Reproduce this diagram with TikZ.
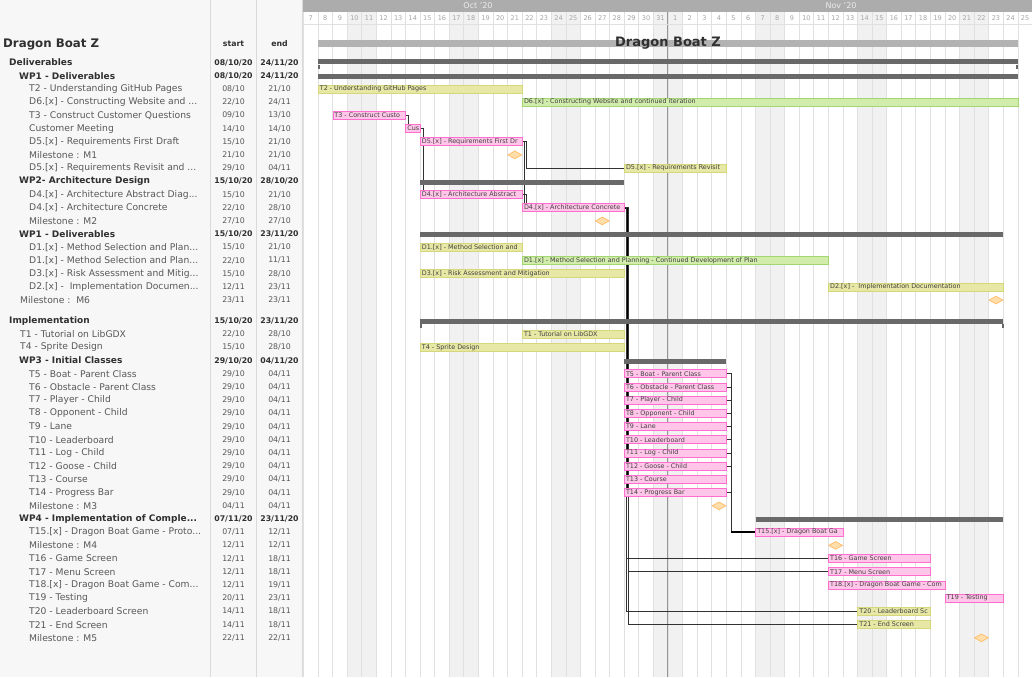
\documentclass[tikz,border=0pt]{standalone}
\usepackage{fontspec}
\setmainfont{DejaVu Sans}
\usepackage{xcolor}
\usepackage{tikz}
\usetikzlibrary{shapes.geometric, calc, positioning}

\definecolor{panelbg}{RGB}{247,247,247}
\definecolor{panelrule}{RGB}{218,218,218}
\definecolor{gridcol}{RGB}{224,224,224}
\definecolor{weekend}{RGB}{241,241,241}
\definecolor{monthcol}{RGB}{172,172,172}
\definecolor{monthrule}{RGB}{150,150,150}
\definecolor{daytext}{RGB}{165,165,165}
\definecolor{nametext}{RGB}{88,88,88}
\definecolor{grouptext}{RGB}{48,48,48}
\definecolor{yelfill}{RGB}{232,232,166}
\definecolor{yeldraw}{RGB}{214,214,122}
\definecolor{grnfill}{RGB}{210,236,172}
\definecolor{grndraw}{RGB}{162,214,112}
\definecolor{pnkfill}{RGB}{255,198,233}
\definecolor{pnkdraw}{RGB}{255,112,206}
\definecolor{sumcol}{RGB}{105,105,105}
\definecolor{projcol}{RGB}{178,178,178}
\definecolor{msfill}{RGB}{255,222,170}
\definecolor{msdraw}{RGB}{255,188,105}
\definecolor{depcol}{RGB}{50,50,50}

\pgfdeclarelayer{grid}
\pgfdeclarelayer{deps}
\pgfsetlayers{grid,deps,main}

\tikzset{
  taskbox/.style={
    draw, rectangle, inner sep=0pt, minimum height=8pt, line width=0.8pt,
    font=\fontsize{6.4}{7}\selectfont, text=black!75, anchor=west
  },
  taskyel/.style={taskbox, fill=yelfill, draw=yeldraw},
  taskgrn/.style={taskbox, fill=grnfill, draw=grndraw},
  taskpnk/.style={taskbox, fill=pnkfill, draw=pnkdraw},
  sumbox/.style={
    rectangle, fill=sumcol, inner sep=0pt, minimum height=5pt, anchor=west
  },
  sumtick/.style={draw=sumcol, line width=2pt},
  projbox/.style={
    rectangle, fill=projcol, inner sep=0pt, minimum height=6.5pt, anchor=west
  },
  milestone/.style={
    diamond, draw=msdraw, fill=msfill, line width=0.7pt, inner sep=0pt,
    minimum width=14pt, minimum height=8pt
  },
  deplink/.style={draw=depcol, line width=1pt},
  depthick/.style={draw=black, line width=2.4pt},
  namecell/.style={
    anchor=west, inner sep=0pt, font=\fontsize{9.2}{10}\selectfont, text=nametext
  },
  groupcell/.style={
    anchor=west, inner sep=0pt, font=\fontsize{9}{10}\selectfont\bfseries,
    text=grouptext
  },
  datecell/.style={inner sep=0pt, font=\fontsize{7.8}{9}\selectfont, text=nametext},
  groupdate/.style={
    inner sep=0pt, font=\fontsize{7.8}{9}\selectfont\bfseries, text=grouptext
  },
  daynum/.style={inner sep=0pt, font=\fontsize{6.5}{7}\selectfont, text=daytext},
  monthlabel/.style={inner sep=0pt, font=\fontsize{8}{9}\selectfont, text=white!92!black},
  gridline/.style={draw=gridcol, line width=0.6pt},
}

% one line of the table on the left
\newcommand{\taskrow}[6]{%
  \node[namecell] (#1-n) at (#2,#3) {#4};
  \node[datecell] (#1-s) at (233.5,#3) {#5};
  \node[datecell] (#1-e) at (279.5,#3) {#6};
}
\newcommand{\grouprow}[6]{%
  \node[groupcell] (#1-n) at (#2,#3) {#4};
  \node[groupdate] (#1-s) at (233.5,#3) {#5};
  \node[groupdate] (#1-e) at (279.5,#3) {#6};
}
% bars: day index counted from 7 Oct (= 0)
\newcommand{\taskbar}[6]{%
  \pgfmathsetmacro{\barx}{303.4+14.58*#3}
  \pgfmathsetmacro{\barw}{14.58*(#4-#3+1)}
  \node[#2, minimum width=\barw pt] (#1) at (\barx,#5)
    {\makebox[\barw pt][l]{\hspace{1.5pt}#6}};
}
\newcommand{\summarybar}[4]{%
  \pgfmathsetmacro{\barx}{303.4+14.58*#2}
  \pgfmathsetmacro{\barw}{14.58*(#3-#2+1)}
  \node[sumbox, minimum width=\barw pt] (#1) at (\barx,#4) {};
}
\newcommand{\milestone}[3]{%
  \node[milestone] (#1) at ({303.4+14.58*(#2+0.5)},#3) {};
}

\begin{document}
\begin{tikzpicture}[x=1pt, y=-1pt]
  \useasboundingbox (0,0) rectangle (1032,677);

  % background, weekends, day grid
  \begin{pgfonlayer}{grid}
    \fill[panelbg] (0,0) rectangle (303.4,677);
    \fill[white] (303.4,12) rectangle (1032,677);
    \foreach \i in {3,4,10,11,17,18,24,25,31,32,38,39,45,46}
      \fill[weekend] ({303.4+14.58*\i},12) rectangle ++(14.58,665);
    \foreach \i in {0,...,49}
      \draw[gridline] ({303.4+14.58*\i},12) -- ++(0,665);
    \draw[monthrule, line width=0.9pt] (667.9,12) -- ++(0,665);
    \draw[gridline] (303.4,24.5) -- (1032,24.5);
    \fill[monthcol] (303.4,0) rectangle (1032,12);
    \draw[panelrule, line width=0.8pt] (210.7,0) -- ++(0,677);
    \draw[panelrule, line width=0.8pt] (256.7,0) -- ++(0,677);
    \draw[panelrule, line width=1pt] (302.9,0) -- ++(0,677);
  \end{pgfonlayer}

  % calendar header
  \node[monthlabel] (moct) at (478,6) {Oct '20};
  \node[monthlabel] (mnov) at (841,6) {Nov '20};
  \foreach \d in {7,...,31}
    \node[daynum] (oct\d) at ({303.4+14.58*(\d-7+0.5)},18.5) {\d};
  \foreach \d in {1,...,25}
    \node[daynum] (nov\d) at ({303.4+14.58*(\d+24.5)},18.5) {\d};

  % table
  \node[anchor=west, inner sep=0pt, font=\fontsize{11.8}{13}\selectfont\bfseries,
    text=grouptext] (title) at (3,44) {Dragon Boat Z};
  \node[groupdate] (hstart) at (233.5,44) {start};
  \node[groupdate] (hend) at (279.5,44) {end};

  \grouprow{gdel}{9}{62.5}{Deliverables}{08/10/20}{24/11/20}
  \grouprow{gwpa}{19}{75.7}{WP1 - Deliverables}{08/10/20}{24/11/20}
  \taskrow{rt2}{29}{88.9}{T2 - Understanding GitHub Pages}{08/10}{21/10}
  \taskrow{rd6}{29}{102.1}{D6.[x] - Constructing Website and ...}{22/10}{24/11}
  \taskrow{rt3}{29}{115.3}{T3 - Construct Customer Questions}{09/10}{13/10}
  \taskrow{rcm}{29}{128.5}{Customer Meeting}{14/10}{14/10}
  \taskrow{rd5a}{29}{141.7}{D5.[x] - Requirements First Draft}{15/10}{21/10}
  \taskrow{rm1}{29}{154.9}{Milestone : M1}{21/10}{21/10}
  \taskrow{rd5b}{29}{168.1}{D5.[x] - Requirements Revisit and ...}{29/10}{04/11}
  \grouprow{gwp2}{19}{181.3}{WP2- Architecture Design}{15/10/20}{28/10/20}
  \taskrow{rd4a}{29}{194.5}{D4.[x] - Architecture Abstract Diag...}{15/10}{21/10}
  \taskrow{rd4c}{29}{207.7}{D4.[x] - Architecture Concrete}{22/10}{28/10}
  \taskrow{rm2}{29}{220.9}{Milestone : M2}{27/10}{27/10}
  \grouprow{gwpb}{19}{234.1}{WP1 - Deliverables}{15/10/20}{23/11/20}
  \taskrow{rd1a}{29}{247.3}{D1.[x] - Method Selection and Plan...}{15/10}{21/10}
  \taskrow{rd1b}{29}{260.5}{D1.[x] - Method Selection and Plan...}{22/10}{11/11}
  \taskrow{rd3}{29}{273.7}{D3.[x] - Risk Assessment and Mitig...}{15/10}{28/10}
  \taskrow{rd2}{29}{286.9}{D2.[x] -\ \ Implementation Documen...}{12/11}{23/11}
  \taskrow{rm6}{20}{300.1}{Milestone :\ \ M6}{23/11}{23/11}
  \grouprow{gimp}{9}{321}{Implementation}{15/10/20}{23/11/20}
  \taskrow{rt1}{20}{334.2}{T1 - Tutorial on LibGDX}{22/10}{28/10}
  \taskrow{rt4}{20}{347.4}{T4 - Sprite Design}{15/10}{28/10}
  \grouprow{gwp3}{19}{360.6}{WP3 - Initial Classes}{29/10/20}{04/11/20}
  \taskrow{rm3}{29}{505.8}{Milestone : M3}{04/11}{04/11}
  \grouprow{gwp4}{19}{519}{WP4 - Implementation of Comple...}{07/11/20}{23/11/20}
  \taskrow{rt15}{29}{532.2}{T15.[x] - Dragon Boat Game - Proto...}{07/11}{12/11}
  \taskrow{rm4}{29}{545.4}{Milestone : M4}{12/11}{12/11}
  \taskrow{rt16}{29}{558.6}{T16 - Game Screen}{12/11}{18/11}
  \taskrow{rt17}{29}{571.8}{T17 - Menu Screen}{12/11}{18/11}
  \taskrow{rt18}{29}{585}{T18.[x] - Dragon Boat Game - Com...}{12/11}{19/11}
  \taskrow{rt19}{29}{598.2}{T19 - Testing}{20/11}{23/11}
  \taskrow{rt20}{29}{611.4}{T20 - Leaderboard Screen}{14/11}{18/11}
  \taskrow{rt21}{29}{624.6}{T21 - End Screen}{14/11}{18/11}
  \taskrow{rm5}{29}{637.8}{Milestone : M5}{22/11}{22/11}

  % project and summary bars
  \node[projbox, minimum width=700pt] (proj) at (318,43.7) {};
  \node[font=\fontsize{13}{14}\selectfont\bfseries, text=grouptext, inner sep=0pt]
    (projname) at (668,43.5) {Dragon Boat Z};
  \summarybar{deliv}{1}{48}{61.8}
  \draw[sumtick] ([xshift=1pt]deliv.south west) -- ++(0,4);
  \draw[sumtick] ([xshift=-1pt]deliv.south east) -- ++(0,4);
  \summarybar{wpa}{1}{48}{76.4}
  \summarybar{wp2}{8}{21}{182}
  \summarybar{wpb}{8}{47}{234.8}
  \summarybar{impl}{8}{47}{321.4}
  \draw[sumtick] ([xshift=1pt]impl.south west) -- ++(0,4);
  \draw[sumtick] ([xshift=-1pt]impl.south east) -- ++(0,4);
  \summarybar{wp3}{22}{28}{361.2}
  \summarybar{wp4}{31}{47}{519.6}

  % tasks
  \taskbar{t2}{taskyel}{1}{14}{88.9}{T2 - Understanding GitHub Pages}
  \taskbar{d6}{taskgrn}{15}{48}{102.1}{D6.[x] - Constructing Website and continued iteration}
  \taskbar{t3}{taskpnk}{2}{6}{115.3}{T3 - Construct Custo}
  \taskbar{cm}{taskpnk}{7}{7}{128.5}{Cus}
  \taskbar{d5a}{taskpnk}{8}{14}{141.7}{D5.[x] - Requirements First Dr}
  \milestone{m1}{14}{154.9}
  \taskbar{d5b}{taskyel}{22}{28}{168.1}{D5.[x] - Requirements Revisit}
  \taskbar{d4a}{taskpnk}{8}{14}{194.5}{D4.[x] - Architecture Abstract}
  \taskbar{d4c}{taskpnk}{15}{21}{207.7}{D4.[x] - Architecture Concrete}
  \milestone{m2}{20}{220.9}
  \taskbar{d1a}{taskyel}{8}{14}{247.3}{D1.[x] - Method Selection and}
  \taskbar{d1b}{taskgrn}{15}{35}{260.5}{D1.[x] - Method Selection and Planning - Continued Development of Plan}
  \taskbar{d3}{taskyel}{8}{21}{273.7}{D3.[x] - Risk Assessment and Mitigation}
  \taskbar{d2}{taskyel}{36}{47}{286.9}{D2.[x] -\ \ Implementation Documentation}
  \milestone{m6}{47}{300.1}
  \taskbar{t1}{taskyel}{15}{21}{334.2}{T1 - Tutorial on LibGDX}
  \taskbar{t4}{taskyel}{8}{21}{347.4}{T4 - Sprite Design}

  % WP3 classes, all 29/10 - 04/11
  \foreach \k/\lbl [count=\n from 0] in {
      t5/{T5 - Boat - Parent Class}, t6/{T6 - Obstacle - Parent Class},
      t7/{T7 - Player - Child}, t8/{T8 - Opponent - Child},
      t9/{T9 - Lane}, t10/{T10 - Leaderboard}, t11/{T11 - Log - Child},
      t12/{T12 - Goose - Child}, t13/{T13 - Course}, t14/{T14 - Progress Bar}} {
    \pgfmathsetmacro{\ry}{373.8+13.2*\n}
    \taskrow{r\k}{29}{\ry}{\lbl}{29/10}{04/11}
    \taskbar{\k}{taskpnk}{22}{28}{\ry}{\lbl}
  }
  \milestone{m3}{28}{505.8}

  \taskbar{t15}{taskpnk}{31}{36}{532.2}{T15.[x] - Dragon Boat Ga}
  \milestone{m4}{36}{545.4}
  \taskbar{t16}{taskpnk}{36}{42}{558.6}{T16 - Game Screen}
  \taskbar{t17}{taskpnk}{36}{42}{571.8}{T17 - Menu Screen}
  \taskbar{t18}{taskpnk}{36}{43}{585}{T18.[x] - Dragon Boat Game - Com}
  \taskbar{t19}{taskpnk}{44}{47}{598.2}{T19 - Testing}
  \taskbar{t20}{taskyel}{38}{42}{611.4}{T20 - Leaderboard Sc}
  \taskbar{t21}{taskyel}{38}{42}{624.6}{T21 - End Screen}
  \milestone{m5}{46}{637.8}

  % dependencies
  \begin{pgfonlayer}{deps}
    \draw[deplink] (t3.east) -| ([xshift=3pt]cm.north west);
    \draw[deplink] (cm.east) -| ([xshift=3pt]d5a.north west);
    \draw[deplink] (cm.east) -| ([xshift=3pt]d4a.north west);
    \draw[deplink] (d5a.east) -- ++(4,0) |- (d5b.west);
    \draw[deplink] (d5a.east) -| ([xshift=2pt]d4c.north west);
    \draw[deplink] (d4a.east) -| ([xshift=4pt]d4c.north west);
    \foreach \tsk in {t5,t6,t7,t8,t9,t10,t11,t12,t13,t14}
      \draw[depthick] (d4c.east) -- ++(3,0) |- (\tsk.west);
    \foreach \tsk/\sh in {t16/2,t17/4,t20/2,t21/4}
      \draw[deplink] (d4c.east) -- ++(\sh,0) |- (\tsk.west);
    \foreach \tsk in {t5,t6,t7,t8,t9,t10,t11,t12,t14}
      \draw[deplink] (\tsk.east) -- ++(4,0) |- (t15.west);
    \draw[depthick] ([xshift=4pt]t14.east |- t15.west) -- (t15.west);
  \end{pgfonlayer}
\end{tikzpicture}
\end{document}
